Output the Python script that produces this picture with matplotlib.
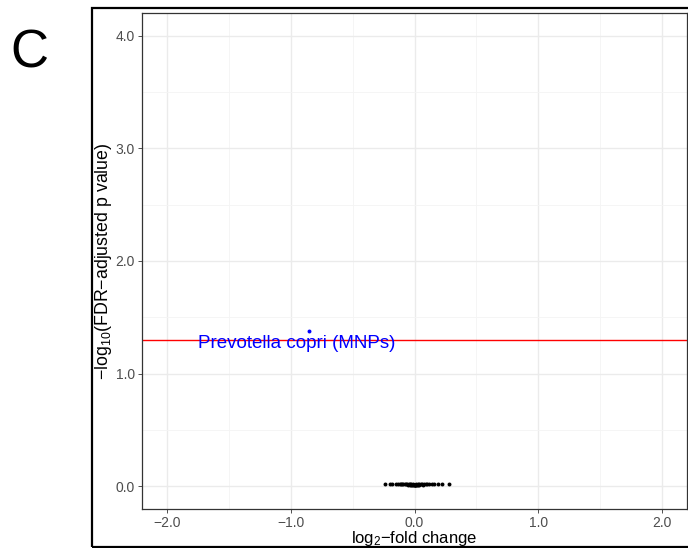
import matplotlib
matplotlib.use("Agg")
import matplotlib.pyplot as plt
from matplotlib.patches import Rectangle
from matplotlib.ticker import FixedLocator, FuncFormatter

plt.rcParams["font.family"] = ["Liberation Sans", "DejaVu Sans"]
plt.rcParams["mathtext.fontset"] = "custom"
plt.rcParams["mathtext.rm"] = "Liberation Sans"
plt.rcParams["mathtext.it"] = "Liberation Sans:italic"

# non-significant taxa (log2 fold change, -log10 adjusted p)
ns_lfc = [-0.24, -0.20, -0.18, -0.15, -0.13, -0.12, -0.11, -0.10, -0.09, -0.08,
          -0.07, -0.06, -0.05, -0.045, -0.04, -0.035, -0.03, -0.025, -0.02, -0.015,
          -0.01, -0.005, 0.0, 0.003, 0.006, 0.01, 0.015, 0.02, 0.025, 0.03,
          0.035, 0.04, 0.05, 0.06, 0.07, 0.08, 0.09, 0.10, 0.12, 0.14,
          0.16, 0.19, 0.22, 0.28]
ns_logp = [0.018, 0.018, 0.018, 0.018, 0.018, 0.018, 0.018, 0.018, 0.018, 0.018,
           0.018, 0.018, 0.016, 0.018, 0.016, 0.018, 0.016, 0.018, 0.014, 0.018,
           0.016, 0.014, 0.012, 0.016, 0.014, 0.018, 0.016, 0.014, 0.018, 0.016,
           0.018, 0.016, 0.018, 0.018, 0.016, 0.018, 0.018, 0.018, 0.018, 0.018,
           0.018, 0.018, 0.018, 0.018]

# significant taxon
sig_lfc = [-0.85]
sig_logp = [1.378]
sig_label = ["Prevotella copri (MNPs)"]
label_pos = [(-0.955, 1.27)]

threshold = 1.301  # -log10(0.05)

fig = plt.figure(figsize=(6.88, 5.48), dpi=100)
ax = fig.add_axes([142 / 688, 1 - 509 / 548, 545 / 688, 496 / 548])

ax.scatter(ns_lfc, ns_logp, s=8, color="black", linewidths=0, zorder=3)
ax.scatter(sig_lfc, sig_logp, s=8, color="blue", linewidths=0, zorder=3)
for (tx, ty), lab in zip(label_pos, sig_label):
    ax.text(tx, ty, lab, color="blue", fontsize=13.5, ha="center", va="center", zorder=4)
ax.axhline(threshold, color="red", lw=1.0, zorder=2)

ax.set_xlim(-2.2, 2.2)
ax.set_ylim(-0.2, 4.2)
ax.xaxis.set_major_locator(FixedLocator([-2, -1, 0, 1, 2]))
ax.xaxis.set_minor_locator(FixedLocator([-1.5, -0.5, 0.5, 1.5]))
ax.yaxis.set_major_locator(FixedLocator([0, 1, 2, 3, 4]))
ax.yaxis.set_minor_locator(FixedLocator([0.5, 1.5, 2.5, 3.5]))
fmt = FuncFormatter(lambda v, p: ("%.1f" % v).replace("-", "\u2212"))
ax.xaxis.set_major_formatter(fmt)
ax.yaxis.set_major_formatter(fmt)

ax.grid(which="major", color="#EBEBEB", lw=1.0, zorder=0)
ax.grid(which="minor", color="#F4F4F4", lw=0.6, zorder=0)
ax.set_axisbelow(True)
ax.tick_params(which="major", length=3, width=0.6, color="#333333",
               labelcolor="#4D4D4D", labelsize=10, pad=2)
ax.tick_params(which="minor", length=0)
for sp in ax.spines.values():
    sp.set_color("#333333")
    sp.set_linewidth(0.9)

ax.set_xlabel("log$_{2}$\u2212fold change", fontsize=12)
ax.set_ylabel("\u2212log$_{10}$(FDR\u2212adjusted p value)", fontsize=12.8)
ax.xaxis.set_label_coords(0.5, -0.041)
ax.yaxis.set_label_coords(-0.052, 0.5)

# outer panel frame
fig.patches.append(Rectangle((92 / 688, 1 / 548), 1 - 92 / 688 + 0.01, 1 - 9 / 548,
                             transform=fig.transFigure, fill=False,
                             edgecolor="black", lw=1.6))
fig.text(10 / 688, 1 - 53 / 548, "C", fontsize=38, ha="left", va="center")

fig.savefig("out.png", dpi=100)
